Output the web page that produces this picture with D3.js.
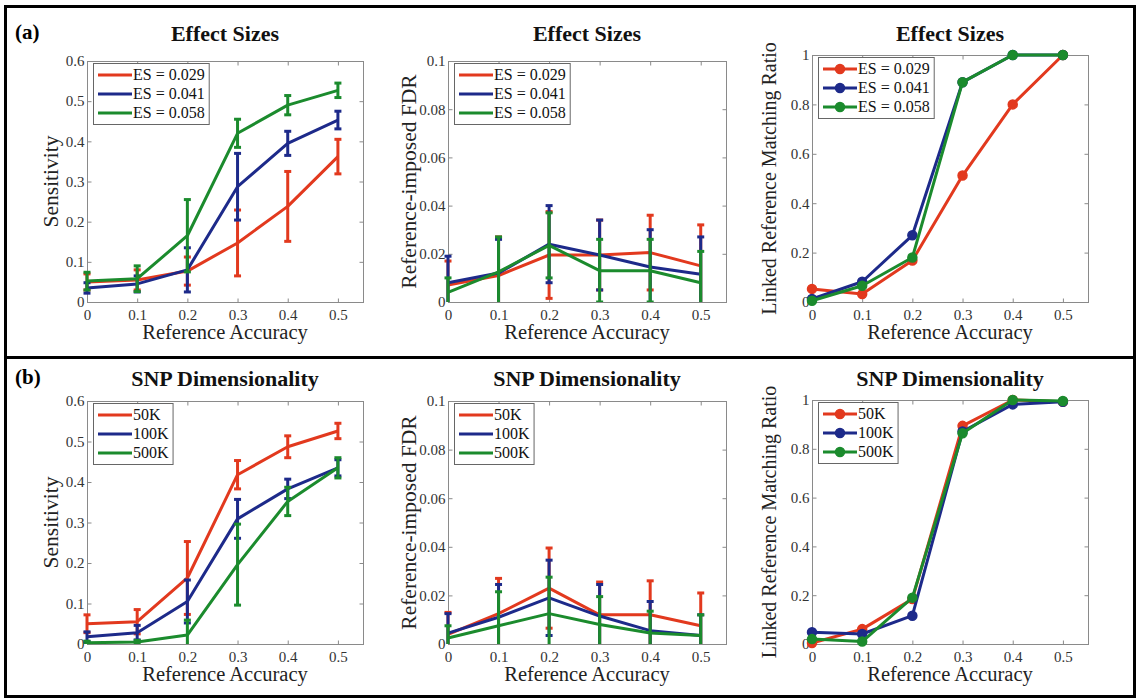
<!DOCTYPE html>
<html>
<head>
<meta charset="utf-8">
<script src="https://cdn.jsdelivr.net/npm/d3@7"></script>
<style>
  body { margin: 0; background: #fff; }
  svg { display: block; }
  svg text { font-family: 'Liberation Serif', 'DejaVu Serif', serif !important; }
</style>
</head>
<body>
<svg id="fig" width="1139" height="700" font-family="Liberation Serif, DejaVu Serif, serif"></svg>
<script>
// ---- shared axes ----
const accuracy = [0, 0.1, 0.2, 0.3, 0.4, 0.5];
const xTickValues = [0, 0.1, 0.2, 0.3, 0.4, 0.5];
const sensitivityTicks = [0, 0.1, 0.2, 0.3, 0.4, 0.5, 0.6];
const fdrTicks = [0, 0.02, 0.04, 0.06, 0.08, 0.1];
const ratioTicks = [0, 0.2, 0.4, 0.6, 0.8, 1];
const effectSizeLabels = ["ES = 0.029", "ES = 0.041", "ES = 0.058"];
const snpLabels = ["50K", "100K", "500K"];
const seriesColors = ["#e2391e", "#1d2a8a", "#1b8b2d"];
const serif = "Liberation Serif, DejaVu Serif, serif";

// ---- (a) effect sizes ----
const sensES029 = [0.050, 0.055, 0.077, 0.147, 0.238, 0.362];
const sensES041 = [0.035, 0.045, 0.080, 0.287, 0.395, 0.453];
const sensES058 = [0.052, 0.058, 0.165, 0.420, 0.490, 0.527];
const sensES029Err = [0.020, 0.025, 0.035, 0.082, 0.087, 0.043];
const sensES041Err = [0.013, 0.020, 0.055, 0.083, 0.030, 0.022];
const sensES058Err = [0.022, 0.032, 0.090, 0.035, 0.024, 0.018];

const fdrES029 = [0.007, 0.011, 0.0195, 0.0195, 0.0205, 0.015];
const fdrES041 = [0.008, 0.012, 0.024, 0.0195, 0.0145, 0.0115];
const fdrES058 = [0.004, 0.0125, 0.0235, 0.013, 0.013, 0.008];
const fdrES029Err = [0.010, 0.016, 0.018, 0.0145, 0.0155, 0.017];
const fdrES041Err = [0.011, 0.014, 0.016, 0.0145, 0.0155, 0.0155];
const fdrES058Err = [0.006, 0.0145, 0.0135, 0.013, 0.013, 0.013];

const ratioES029 = [0.053, 0.032, 0.168, 0.512, 0.800, 1.000];
const ratioES041 = [0.012, 0.082, 0.270, 0.890, 1.000, 1.000];
const ratioES058 = [0.005, 0.066, 0.180, 0.890, 1.000, 1.000];

// ---- (b) SNP dimensionality ----
const sens50K = [0.050, 0.055, 0.163, 0.418, 0.487, 0.526];
const sens100K = [0.018, 0.028, 0.105, 0.309, 0.383, 0.435];
const sens500K = [0.003, 0.005, 0.022, 0.196, 0.352, 0.435];
const sens50KErr = [0.022, 0.030, 0.090, 0.035, 0.027, 0.019];
const sens100KErr = [0.012, 0.018, 0.053, 0.048, 0.024, 0.020];
const sens500KErr = [0.004, 0.004, 0.037, 0.100, 0.035, 0.025];

const fdr50K = [0.004, 0.0125, 0.023, 0.012, 0.012, 0.0075];
const fdr100K = [0.0045, 0.011, 0.019, 0.0115, 0.0055, 0.0035];
const fdr500K = [0.0025, 0.0075, 0.0125, 0.008, 0.0045, 0.0035];
const fdr50KErr = [0.009, 0.0145, 0.0165, 0.0135, 0.014, 0.0135];
const fdr100KErr = [0.008, 0.0135, 0.0155, 0.013, 0.012, 0.0085];
const fdr500KErr = [0.005, 0.014, 0.015, 0.0115, 0.009, 0.0085];

const ratio50K = [0.004, 0.061, 0.184, 0.894, 1.000, 0.993];
const ratio100K = [0.048, 0.041, 0.116, 0.871, 0.982, 0.993];
const ratio500K = [0.020, 0.010, 0.190, 0.864, 1.000, 0.996];

const svg = d3.select("#fig");
const tickFmt = d3.format("~g");

// outer frame and row divider
svg.append("rect").attr("x", 5.5).attr("y", 6.5).attr("width", 1129).attr("height", 690)
  .attr("fill", "none").attr("stroke", "#000").attr("stroke-width", 3);
svg.append("line").attr("x1", 5).attr("x2", 1135).attr("y1", 357.5).attr("y2", 357.5)
  .attr("stroke", "#000").attr("stroke-width", 3);

svg.append("text").attr("x", 15).attr("y", 39).attr("font-family", serif).attr("font-size", 21)
  .attr("font-weight", "bold").text("(a)");
svg.append("text").attr("x", 15).attr("y", 384).attr("font-family", serif).attr("font-size", 21)
  .attr("font-weight", "bold").text("(b)");

let clipId = 0;

function drawPanel(p) {
  const g = svg.append("g").attr("font-family", serif);
  const x = d3.scaleLinear().domain([0, 0.55]).range([p.left, p.right]);
  const y = d3.scaleLinear().domain([0, p.yMax]).range([p.bottom, p.top]);

  // plot box
  g.append("rect").attr("x", p.left + 0.5).attr("y", p.top + 0.5)
    .attr("width", p.right - p.left).attr("height", p.bottom - p.top)
    .attr("fill", "#fff").attr("stroke", "#8a8a8a").attr("stroke-width", 1);

  // axes with inward ticks on all four sides
  const styleAxis = sel => {
    sel.attr("font-family", serif);
    sel.select(".domain").remove();
    sel.selectAll(".tick line").attr("stroke", "#8a8a8a");
    sel.selectAll(".tick text").attr("fill", "#333").attr("font-size", 15).attr("font-family", serif);
  };
  g.append("g").attr("transform", `translate(0,${p.bottom + 0.5})`)
    .call(d3.axisBottom(x).tickValues(xTickValues).tickFormat(tickFmt).tickSize(-4).tickPadding(7))
    .call(styleAxis);
  g.append("g").attr("transform", `translate(0,${p.top + 0.5})`)
    .call(d3.axisTop(x).tickValues(xTickValues).tickFormat("").tickSize(-4))
    .call(styleAxis);
  g.append("g").attr("transform", `translate(${p.left + 0.5},0)`)
    .call(d3.axisLeft(y).tickValues(p.yTicks).tickFormat(tickFmt).tickSize(-4).tickPadding(3))
    .call(styleAxis);
  g.append("g").attr("transform", `translate(${p.right + 0.5},0)`)
    .call(d3.axisRight(y).tickValues(p.yTicks).tickFormat("").tickSize(-4))
    .call(styleAxis);

  // clip region for error bars
  const cid = "clip" + (clipId++);
  g.append("clipPath").attr("id", cid).append("rect")
    .attr("x", p.left - 10).attr("y", p.top - 10)
    .attr("width", p.right - p.left + 20).attr("height", p.bottom - p.top + 10);

  const line = d3.line().x((d, i) => x(accuracy[i])).y(d => y(d));

  p.means.forEach((vals, s) => {
    const color = seriesColors[s];
    if (p.errs) {
      const eb = g.append("g").attr("clip-path", `url(#${cid})`)
        .attr("stroke", color).attr("stroke-width", 3);
      vals.forEach((v, i) => {
        const e = p.errs[s][i];
        const cx = x(accuracy[i]);
        eb.append("line").attr("x1", cx).attr("x2", cx).attr("y1", y(v - e)).attr("y2", y(v + e));
        [v - e, v + e].forEach(b => {
          eb.append("line").attr("x1", cx - 3.5).attr("x2", cx + 3.5).attr("y1", y(b)).attr("y2", y(b));
        });
      });
    }
    g.append("path").datum(vals).attr("d", line)
      .attr("fill", "none").attr("stroke", color).attr("stroke-width", 3)
      .attr("stroke-linejoin", "round");
    if (p.markers) {
      g.selectAll(null).data(vals).enter().append("circle")
        .attr("cx", (d, i) => x(accuracy[i])).attr("cy", d => y(d)).attr("r", 4.5)
        .attr("fill", color).attr("stroke", color).attr("stroke-width", 1.5);
    }
  });

  // legend
  const lg = g.append("g").attr("transform", `translate(${p.left + 6},${p.top + 2})`);
  const box = lg.append("rect").attr("x", 0.5).attr("y", 0.5).attr("height", 61)
    .attr("fill", "#fff").attr("stroke", "#666").attr("stroke-width", 1);
  let maxW = 0;
  p.labels.forEach((lab, i) => {
    const ry = 12 + i * 19;
    lg.append("line").attr("x1", 5).attr("x2", 39).attr("y1", ry).attr("y2", ry)
      .attr("stroke", seriesColors[i]).attr("stroke-width", 3);
    if (p.markers) {
      lg.append("circle").attr("cx", 22).attr("cy", ry).attr("r", 4.5)
        .attr("fill", seriesColors[i]).attr("stroke", seriesColors[i]).attr("stroke-width", 1.5);
    }
    const t = lg.append("text").attr("x", 40).attr("y", ry).attr("dy", "0.33em")
      .attr("font-family", serif).attr("font-size", 16).attr("fill", "#111").text(lab);
    maxW = Math.max(maxW, t.node().getComputedTextLength());
  });
  box.attr("width", 40 + maxW + 4);

  // title and axis labels
  g.append("text").attr("x", (p.left + p.right) / 2).attr("y", p.titleY)
    .attr("text-anchor", "middle").attr("font-family", serif).attr("font-size", 22)
    .attr("font-weight", "bold").attr("fill", "#111").text(p.title);
  g.append("text").attr("x", (p.left + p.right) / 2).attr("y", p.bottom + 37)
    .attr("text-anchor", "middle").attr("font-family", serif).attr("font-size", 20.5).attr("fill", "#222")
    .text("Reference Accuracy");
  const cy = (p.top + p.bottom) / 2;
  g.append("text").attr("transform", `translate(${p.ylabelX},${cy}) rotate(-90)`)
    .attr("text-anchor", "middle").attr("dy", "0.35em").attr("font-family", serif)
    .attr("font-size", p.ylabelSize).attr("fill", "#222").text(p.ylabel);
}

const rowA = { top: 61, bottom: 302, titleY: 41 };
const rowB = { top: 401, bottom: 644, titleY: 386 };
const colL = { left: 87, right: 363, ylabelX: 50, ylabelSize: 21.5 };
const colM = { left: 448, right: 726, ylabelX: 408, ylabelSize: 21.5 };
const colR = { left: 812, right: 1088, ylabelX: 769, ylabelSize: 20 };

drawPanel({ ...rowA, ...colL, yMax: 0.6, yTicks: sensitivityTicks, title: "Effect Sizes",
  ylabel: "Sensitivity", labels: effectSizeLabels,
  means: [sensES029, sensES041, sensES058], errs: [sensES029Err, sensES041Err, sensES058Err] });
drawPanel({ ...rowA, ...colM, yMax: 0.1, yTicks: fdrTicks, title: "Effect Sizes",
  ylabel: "Reference-imposed FDR", labels: effectSizeLabels,
  means: [fdrES029, fdrES041, fdrES058], errs: [fdrES029Err, fdrES041Err, fdrES058Err] });
drawPanel({ ...rowA, ...colR, top: 55, yMax: 1, yTicks: ratioTicks, title: "Effect Sizes",
  ylabel: "Linked Reference Matching Ratio", labels: effectSizeLabels, markers: true,
  means: [ratioES029, ratioES041, ratioES058], errs: null });

drawPanel({ ...rowB, ...colL, yMax: 0.6, yTicks: sensitivityTicks, title: "SNP Dimensionality",
  ylabel: "Sensitivity", labels: snpLabels,
  means: [sens50K, sens100K, sens500K], errs: [sens50KErr, sens100KErr, sens500KErr] });
drawPanel({ ...rowB, ...colM, yMax: 0.1, yTicks: fdrTicks, title: "SNP Dimensionality",
  ylabel: "Reference-imposed FDR", labels: snpLabels,
  means: [fdr50K, fdr100K, fdr500K], errs: [fdr50KErr, fdr100KErr, fdr500KErr] });
drawPanel({ ...rowB, ...colR, top: 400, yMax: 1, yTicks: ratioTicks, title: "SNP Dimensionality",
  ylabel: "Linked Reference Matching Ratio", labels: snpLabels, markers: true,
  means: [ratio50K, ratio100K, ratio500K], errs: null });
</script>
</body>
</html>
